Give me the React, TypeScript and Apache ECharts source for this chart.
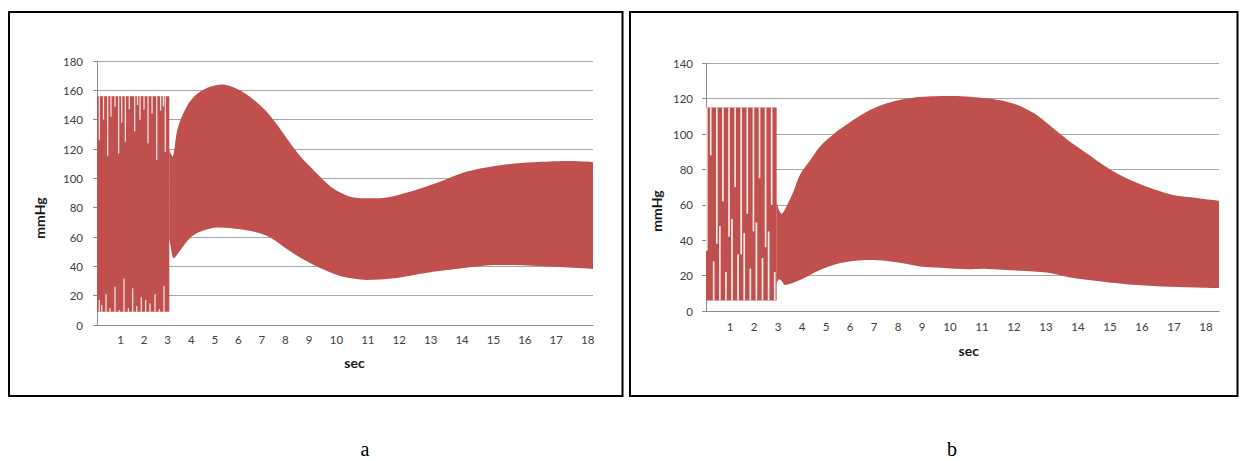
import React, { useEffect, useRef } from 'react';
import * as echarts from 'echarts';

// x axis: sample index (Excel category positions); integer seconds fall on these indices
const xTickPos = [3, 6, 9, 12, 15, 18, 21, 24, 27, 30.5, 34.5, 38.5, 42.5, 46.5, 50.5, 54.5, 58.5, 62.5];
const xTickLabels = ['1', '2', '3', '4', '5', '6', '7', '8', '9', '10', '11', '12', '13', '14', '15', '16', '17', '18'];

// Panel a: beat region (0-3 s) band [sampleIndex, mmHg]
const pulseUpperA = [[0, 156], [9.21, 156]];
const pulseLowerA = [[0, 9], [9.21, 9]];
// Panel a: envelope after 3 s
const upperA = [
  [9.2, 120], [9.3, 118], [9.68, 115], [10.15, 131], [10.57, 139], [11.43, 149], [12.23, 155],
  [13.12, 159], [14.39, 162.5], [15.89, 164], [16.94, 163], [18.22, 160], [19.87, 154], [21.62, 145.4],
  [22.8, 137.5], [24.17, 127.3], [25.6, 117], [27.13, 108], [28.41, 101], [30.06, 93.2], [32.23, 87.5],
  [34.36, 86.4], [36.9, 87], [39.87, 90.9], [43.69, 97.7], [47.1, 104.6], [51.34, 109], [55.54, 110.9],
  [59.83, 111.8], [62.38, 111.4], [63.18, 111],
];
const lowerA = [
  [9.2, 59], [9.43, 52], [9.75, 45.5], [10.32, 48.9], [11.43, 56.8], [12.23, 61],
  [13.12, 63.6], [15.25, 66.4], [18.22, 65.2], [20.76, 62.5], [22.42, 58.5], [24.0, 52.5], [25.86, 46],
  [27.52, 41.2], [28.41, 38.8], [30.96, 33.4], [34.36, 30.7], [37.75, 31.8], [42.0, 35.7], [46.24, 38.6],
  [50.48, 40.9], [55.54, 40.4], [60.68, 39], [63.18, 38.2],
];
const peakA = 156;
const troughA = 9;
// gaps between beats: [sampleIndex, level the gap reaches]
const slitTopA = [
  [0.29, 126], [0.83, 140], [1.36, 115], [1.78, 142], [2.29, 149], [2.76, 117], [3.15, 138], [3.61, 125],
  [4.11, 147], [4.8, 132], [5.16, 150], [5.48, 140], [5.99, 147], [6.5, 124], [7.01, 144], [7.61, 112.5],
  [8.11, 146], [8.45, 149], [8.7, 118],
];
const slitBottomA = [
  [0.29, 17], [0.6, 13.6], [1.15, 21], [1.66, 11.4], [2.29, 26], [2.84, 10.2], [3.44, 31.6], [3.99, 11.4],
  [4.55, 25], [5.06, 13], [5.64, 19], [6.2, 17], [6.75, 14.8], [7.39, 21], [7.94, 10.7], [8.54, 26.6],
];

// Panel b
const pulseUpperB = [[0, 115], [8.83, 115]];
const pulseLowerB = [[0, 6], [8.83, 6]];
const upperB = [
  [8.81, 62], [9.13, 57], [9.46, 55], [9.88, 57.5], [10.88, 67], [11.75, 77],
  [13.0, 85], [14.25, 93], [16.34, 101.4], [18.41, 108], [20.5, 113.6], [22.59, 117.4], [24.66, 119.7],
  [26.75, 121], [30.91, 121.5], [35.09, 120.2], [37.59, 118.3], [39.25, 115.9], [41.34, 110.8],
  [43.41, 103.3], [45.5, 95.7], [47.59, 89.2], [49.66, 82.5], [51.75, 76.9], [53.84, 72.5], [55.91, 69],
  [58.38, 65.6], [61.38, 63.9], [64.13, 62.3],
];
const lowerB = [
  [8.81, 15.8], [9.13, 18], [9.46, 17], [9.88, 14.7], [11.75, 17.5], [14.25, 23.2],
  [16.34, 26.6], [18.41, 28.3], [20.5, 28.8], [22.59, 28.3], [24.66, 27], [26.75, 25.2], [29.25, 24.5],
  [33.0, 23.6], [35.09, 23.8], [39.25, 22.8], [42.59, 21.7], [45.5, 19], [49.66, 16.6], [53.84, 14.7],
  [58.0, 13.7], [62.16, 13.2], [64.13, 13],
];
const peakB = 115;
const troughB = 6;
const slitTopB = [
  [0.1, 34], [0.59, 88], [1.35, 38], [2.11, 62], [2.88, 42], [3.64, 70], [4.4, 32], [5.16, 55], [5.93, 45],
  [6.69, 75], [7.45, 36], [8.21, 60],
];
const slitBottomB = [
  [0.96, 28], [1.73, 48], [2.49, 22], [3.25, 52], [4.01, 32], [4.78, 44], [5.54, 24], [6.3, 50],
  [7.06, 30], [7.83, 45], [8.59, 22],
];

const RED = '#C0504D';
const GRID_GRAY = '#a6a6a6';
const AXIS_GRAY = '#8c8c8c';
const LABEL = '#404040';
const FONT = 'Lato, "Open Sans", sans-serif';

function xFormatter(val: number) {
  const i = xTickPos.findIndex((p) => Math.abs(p - val) < 1e-6);
  return i >= 0 ? xTickLabels[i] : '';
}

// keep the band's vertical end edges square when the outline is smoothed
function guardEnds(pts: number[][]): number[][] {
  if (pts.length < 2) return pts;
  const a = pts[0], b = pts[1];
  const y = pts[pts.length - 1], z = pts[pts.length - 2];
  const lead = [a[0] + Math.sign(b[0] - a[0]) * 0.4, a[1] + (b[1] - a[1]) * 0.4 / Math.max(Math.abs(b[0] - a[0]), 0.4)];
  const tail = [y[0] + Math.sign(z[0] - y[0]) * 0.4, y[1] + (z[1] - y[1]) * 0.4 / Math.max(Math.abs(z[0] - y[0]), 0.4)];
  return [a, lead, ...pts.slice(1, -1), tail, y];
}

function bandSeries(idx: number, upper: number[][], lower: number[][], smooth: number) {
  return {
    type: 'custom',
    xAxisIndex: idx,
    yAxisIndex: idx,
    data: [[upper[0][0], upper[0][1]]],
    encode: { x: 0, y: 1 },
    silent: true,
    renderItem: (_params: any, api: any) => {
      let up: number[][] = upper.map((p) => api.coord(p));
      let lo: number[][] = lower.slice().reverse().map((p) => api.coord(p));
      if (smooth > 0) {
        up = guardEnds(up);
        lo = guardEnds(lo);
      }
      const pts = up.concat(lo);
      let minX = Infinity, minY = Infinity, maxX = -Infinity, maxY = -Infinity;
      for (const p of pts) {
        minX = Math.min(minX, p[0]); minY = Math.min(minY, p[1]);
        maxX = Math.max(maxX, p[0]); maxY = Math.max(maxY, p[1]);
      }
      const shape: any = { points: pts };
      if (smooth > 0) {
        shape.smooth = smooth;
        shape.smoothConstraint = [[minX, minY], [maxX, maxY]];
      }
      return { type: 'polygon', shape, style: { fill: RED } };
    },
  };
}

function slitSeries(idx: number, slits: number[][], anchor: number, width: number) {
  return {
    type: 'custom',
    xAxisIndex: idx,
    yAxisIndex: idx,
    data: slits.map((s) => [s[0], anchor, s[1]]),
    encode: { x: 0, y: [1, 2] },
    silent: true,
    renderItem: (_params: any, api: any) => {
      const p1 = api.coord([api.value(0), api.value(1)]);
      const p2 = api.coord([api.value(0), api.value(2)]);
      return {
        type: 'line',
        shape: { x1: p1[0], y1: p1[1], x2: p2[0], y2: p2[1] },
        style: { stroke: '#f7e9e9', lineWidth: width },
      };
    },
  };
}

function xAxis(idx: number, max: number, margin: number) {
  return {
    type: 'value',
    gridIndex: idx,
    min: 0,
    max,
    interval: 0.5,
    axisLine: { show: true, lineStyle: { color: AXIS_GRAY, width: 1 } },
    axisTick: { show: false },
    splitLine: { show: false },
    axisLabel: { formatter: xFormatter, color: LABEL, fontFamily: FONT, fontSize: 11.5, margin, showMinLabel: true, showMaxLabel: true },
  };
}

function yAxis(idx: number, max: number, margin: number) {
  return {
    type: 'value',
    gridIndex: idx,
    min: 0,
    max,
    interval: 20,
    axisLine: { show: true, lineStyle: { color: AXIS_GRAY, width: 1 } },
    axisTick: { show: true, length: 4, lineStyle: { color: AXIS_GRAY } },
    splitLine: { show: true, lineStyle: { color: GRID_GRAY, width: 1 } },
    axisLabel: { color: LABEL, fontFamily: FONT, fontSize: 11.5, margin },
  };
}

export default function App() {
  const ref = useRef<HTMLDivElement>(null);
  useEffect(() => {
    document.body.style.margin = '0';
    if (!ref.current) return;
    const chart = echarts.init(ref.current, null, { renderer: 'svg' });
    const option: any = {
      animation: false,
      backgroundColor: '#ffffff',
      grid: [
        { left: 97, top: 61, width: 496, height: 264 },
        { left: 706, top: 63.3, width: 513, height: 247.7 },
      ],
      xAxis: [xAxis(0, 63.18, 8), xAxis(1, 64.13, 9)],
      yAxis: [yAxis(0, 180, 14), yAxis(1, 140, 13)],
      series: [
        bandSeries(0, pulseUpperA, pulseLowerA, 0),
        bandSeries(0, upperA, lowerA, 0.3),
        slitSeries(0, slitTopA, peakA, 1.2),
        slitSeries(0, slitBottomA, troughA, 1.2),
        bandSeries(1, pulseUpperB, pulseLowerB, 0),
        bandSeries(1, upperB, lowerB, 0.3),
        slitSeries(1, slitTopB, peakB, 1.7),
        slitSeries(1, slitBottomB, troughB, 1.7),
      ],
      graphic: [
        { type: 'rect', shape: { x: 9, y: 12, width: 613.5, height: 384 }, style: { fill: 'none', stroke: '#000', lineWidth: 2 } },
        { type: 'rect', shape: { x: 630, y: 12, width: 607.5, height: 384 }, style: { fill: 'none', stroke: '#000', lineWidth: 2 } },
        { type: 'text', x: 39, y: 218, rotation: Math.PI / 2, style: { text: 'mmHg', font: `bold 14px ${FONT}`, fill: '#1a1a1a', textAlign: 'center', textVerticalAlign: 'middle' } },
        { type: 'text', x: 656, y: 211, rotation: Math.PI / 2, style: { text: 'mmHg', font: `bold 14px ${FONT}`, fill: '#1a1a1a', textAlign: 'center', textVerticalAlign: 'middle' } },
        { type: 'text', x: 354.5, y: 362.5, style: { text: 'sec', font: `bold 14px ${FONT}`, fill: '#1a1a1a', textAlign: 'center', textVerticalAlign: 'middle' } },
        { type: 'text', x: 968.7, y: 350, style: { text: 'sec', font: `bold 14px ${FONT}`, fill: '#1a1a1a', textAlign: 'center', textVerticalAlign: 'middle' } },
        { type: 'text', x: 365, y: 449, style: { text: 'a', font: '20px "Liberation Serif", serif', fill: '#000', textAlign: 'center', textVerticalAlign: 'middle' } },
        { type: 'text', x: 952, y: 449, style: { text: 'b', font: '20px "Liberation Serif", serif', fill: '#000', textAlign: 'center', textVerticalAlign: 'middle' } },
      ],
    };
    chart.setOption(option);
    return () => chart.dispose();
  }, []);
  return <div ref={ref} style={{ width: 1241, height: 461 }} />;
}
